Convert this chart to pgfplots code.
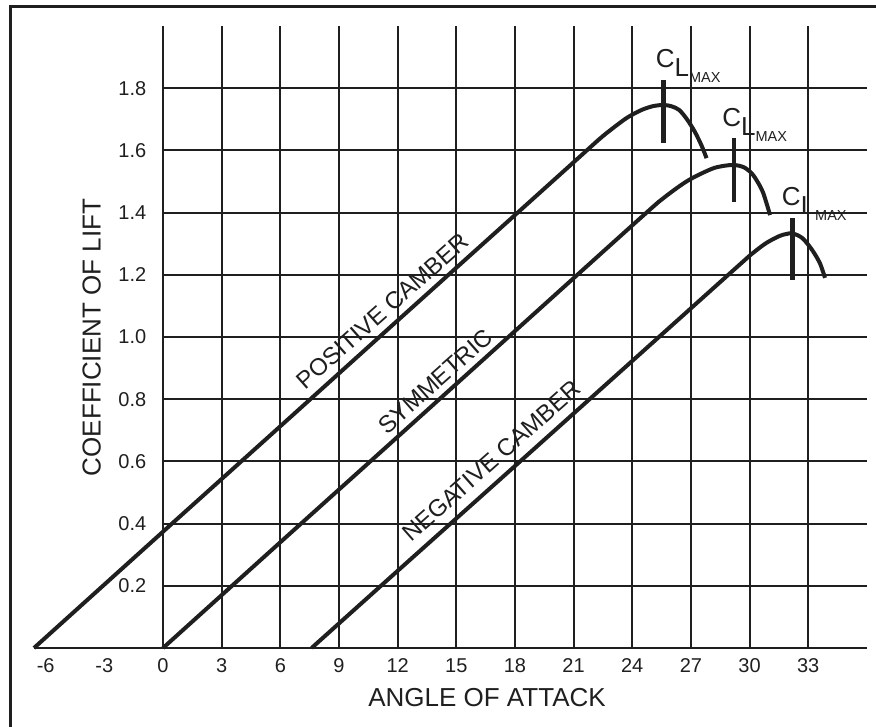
\documentclass[border=0pt]{standalone}
\usepackage{fontspec}
\setmainfont{Liberation Sans}
\usepackage{pgfplots}
\usepackage{pgfplotstable}
\pgfplotsset{compat=1.18}

% lift curves (angle of attack, C_L)
\pgfplotstableread{
aoa cl
-6.6 0
0 0.374
6 0.713
12 1.053
18 1.392
21.5 1.590
22.5 1.646
23.55 1.697
24.06 1.717
24.575 1.7325
25.09 1.7426
25.6 1.746
26.0 1.742
26.4 1.73
26.8 1.70
27.2 1.66
27.55 1.615
27.8 1.575
}\positive

\pgfplotstableread{
aoa cl
0 0
6 0.34
12 0.679
18 1.019
24.5 1.387
25.675 1.4504
26.85 1.503
28.025 1.5396
28.61 1.5495
29.2 1.553
29.7 1.546
30.1 1.527
30.4 1.50
30.7 1.463
31.05 1.392
}\symmetric

\pgfplotstableread{
aoa cl
7.6 0
12 0.248
18 0.585
24 0.923
29.5 1.233
30.175 1.270
30.85 1.302
31.525 1.3245
31.86 1.3308
32.2 1.333
32.7 1.318
33.2 1.28
33.6 1.237
33.86 1.19
}\negative

\definecolor{ink}{gray}{0.12}
\newcommand{\clmax}{\fontsize{26}{26}\selectfont C\raisebox{-9pt}{L}\raisebox{-15pt}{\fontsize{14.5}{15}\selectfont MAX}}

\begin{document}
\begin{tikzpicture}
\useasboundingbox (0,0) rectangle (876pt,727pt);
\draw[line width=3.5pt, ink] (10.3pt,0) -- (10.3pt,720.5pt) -- (876pt,720.5pt);
\begin{axis}[
    at={(34pt,79pt)}, anchor=south west,
    x=19.55pt, y=311pt,
    xmin=-6.6, xmax=36,
    ymin=0, ymax=2,
    clip=false,
    axis line style={draw=none},
    major tick length=0pt,
    xtick={-6,-3,0,3,6,9,12,15,18,21,24,27,30,33},
    xticklabels={-6,-3,0,3,6,9,12,15,18,21,24,27,30,33},
    ytick={0.2,0.4,0.6,0.8,1.0,1.2,1.4,1.6,1.8},
    yticklabels={0.2,0.4,0.6,0.8,1.0,1.2,1.4,1.6,1.8},
    tick label style={font=\fontsize{20}{24}\selectfont, text=ink},
    xticklabel style={yshift=-7pt},
    yticklabel style={anchor=east, inner sep=0pt, xshift=112.5pt},
]
% grid, which starts at an angle of 0
\pgfplotsinvokeforeach{0,3,6,9,12,15,18,21,24,27,30,33}{
  \draw[line width=2pt, ink] (axis cs:#1,0) -- (axis cs:#1,2);
}
\pgfplotsinvokeforeach{0.2,0.4,0.6,0.8,1.0,1.2,1.4,1.6,1.8}{
  \draw[line width=2pt, ink] (axis cs:0,#1) -- (axis cs:36,#1);
}
\draw[line width=2pt, ink] (axis cs:-6.6,0) -- (axis cs:36,0);

\addplot[ink, line width=4pt, smooth, tension=0.5] table {\positive};
\addplot[ink, line width=4pt, smooth, tension=0.5] table {\symmetric};
\addplot[ink, line width=4pt, smooth, tension=0.5] table {\negative};

% C_Lmax marks
\addplot[ink, line width=4.5pt] coordinates {(25.6,1.623) (25.6,1.826)};
\addplot[ink, line width=4.5pt] coordinates {(29.2,1.435) (29.2,1.639)};
\addplot[ink, line width=4.5pt] coordinates {(32.2,1.183) (32.2,1.381)};

\node[anchor=base west, inner sep=0pt, text=ink] at (axis cs:25.2,1.865) {\clmax};
\node[anchor=base west, inner sep=0pt, text=ink] at (axis cs:28.6,1.676) {\clmax};
\node[anchor=base west, inner sep=0pt, text=ink] at (axis cs:31.65,1.424) {\clmax};

\node[rotate=41.5, anchor=south, inner xsep=0pt, inner ysep=8pt, text=ink,
      font=\fontsize{24}{24}\selectfont] at (axis cs:11.8,1.043) {POSITIVE CAMBER};
\node[rotate=41.5, anchor=south, inner xsep=0pt, inner ysep=7pt, text=ink,
      font=\fontsize{24}{24}\selectfont] at (axis cs:14.47,0.82) {SYMMETRIC};
\node[rotate=41.5, anchor=south, inner xsep=0pt, inner ysep=8.5pt, text=ink,
      font=\fontsize{24}{24}\selectfont] at (axis cs:17.38,0.56) {NEGATIVE CAMBER};
\end{axis}
\node[text=ink, font=\fontsize{26}{26}\selectfont] at (487pt,29.5pt) {ANGLE OF ATTACK};
\node[text=ink, rotate=90, font=\fontsize{26}{26}\selectfont] at (91.7pt,389.5pt) {COEFFICIENT OF LIFT};
\end{tikzpicture}
\end{document}
